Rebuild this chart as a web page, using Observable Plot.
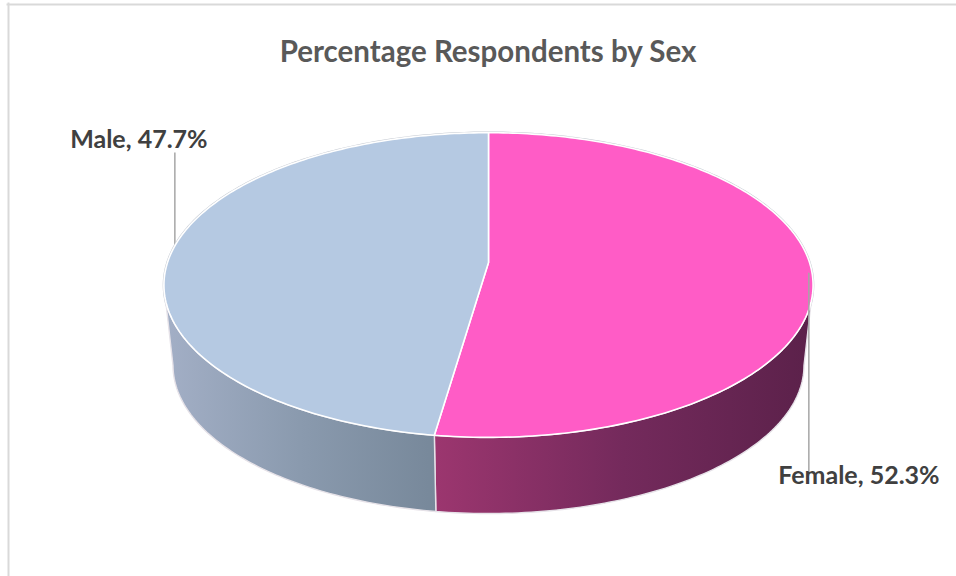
<!DOCTYPE html>
<html>
<head>
<meta charset="utf-8">
<style>
  html, body { margin: 0; padding: 0; background: #fff; }
  svg { display: block; }
</style>
<script src="https://cdn.jsdelivr.net/npm/d3@7"></script>
<script src="https://cdn.jsdelivr.net/npm/@observablehq/plot@0.6"></script>
</head>
<body>
<div id="chart"></div>
<script>
// Survey shares, in percent
const categories = ["Female", "Male"];
const shares = [52.3, 47.7];
const chartTitle = "Percentage Respondents by Sex";

const topColors = { Female: "#ff5cc6", Male: "#b5c9e2" };
const wallStops = {
  Female: ["#9c366f", "#742a5c", "#5b214a"],
  Male: ["#a3afc6", "#8a9aae", "#77889a"]
};

// Tilted disc drawn with a simple perspective: k is the foreshortening strength,
// the lower rim is a slightly smaller copy dropped below the upper one.
const k = 0.148, lowerScale = 0.972, lowerDrop = 0.544;
const rad = (d) => (d * Math.PI) / 180;

function project(deg, radius = 1, scale = 1, drop = 0) {
  const X = radius * Math.sin(rad(deg));
  const Z = radius * Math.cos(rad(deg));
  const w = 1 + k * Z;
  return { x: (scale * X) / w, y: (scale * Z) / w - drop };
}

function arc(from, to, scale = 1, drop = 0) {
  const n = Math.max(2, Math.ceil(Math.abs(to - from)));
  return d3.range(n + 1).map((i) => project(from + ((to - from) * i) / n, 1, scale, drop));
}

// Slices run clockwise from twelve o'clock
const total = d3.sum(shares);
const seam = (shares[0] / total) * 360;
const slices = [
  { name: categories[0], share: shares[0], start: 0, end: seam },
  { name: categories[1], share: shares[1], start: seam, end: 360 }
];

// Angles where the upper rim turns away from the viewer
const turnRight = (Math.acos(-k) * 180) / Math.PI;
const turnLeft = 360 - turnRight;

const topFace = (s) => [{ x: 0, y: 0 }, ...arc(s.start, s.end)];
const wallFace = (from, to) => [...arc(from, to), ...arc(to, from, lowerScale, lowerDrop)];

const walls = { Female: wallFace(turnRight, seam), Male: wallFace(seam, turnLeft) };

const anchors = slices.map((s) => ({
  ...s,
  ...project((s.start + s.end) / 2, 0.99),
  label: `${s.name}, ${s.share}%`
}));

function gradientDefs() {
  const svg = d3.create("svg:defs");
  for (const [name, stops] of Object.entries(wallStops)) {
    const g = svg.append("linearGradient").attr("id", `wall-${name}`);
    stops.forEach((c, i) =>
      g.append("stop").attr("offset", i / (stops.length - 1)).attr("stop-color", c)
    );
  }
  return svg.node();
}

const closed = { x: "x", y: "y", curve: "linear-closed" };
const labelStyle = { x: "x", y: "y", text: "label", fontSize: 25, fontWeight: 700, fill: "#404040", fontFamily: "Lato" };
const leaderStyle = { x: "x", stroke: "#a6a6a6", strokeWidth: 1.5 };

const chart = Plot.plot({
  width: 956,
  height: 576,
  margin: 0,
  x: { type: "linear", domain: [-1, 1], range: [167, 809], axis: null },
  y: { type: "linear", domain: [-1, 1], range: [411, 113], axis: null },
  marks: [
    gradientDefs,
    Plot.frame({ anchor: "top", stroke: "#d9d9d9", strokeWidth: 2, insetTop: 4, insetLeft: 7 }),
    Plot.frame({ anchor: "left", stroke: "#d9d9d9", strokeWidth: 2, insetLeft: 8, insetTop: 3 }),
    Plot.text([chartTitle], {
      frameAnchor: "top", dx: 9.5, dy: 52, text: (d) => d,
      fontSize: 29.5, fontWeight: 700, fill: "#595959", fontFamily: "Lato", lineAnchor: "middle"
    }),

    // Male leader runs behind the disc
    Plot.ruleX(anchors.filter((d) => d.name === "Male"), {
      ...leaderStyle, y1: "y", y2: (d) => d.y + 0.664
    }),

    // Soft rim seen around the disc, then the side wall and upper face
    Plot.line(arc(0, 360), { ...closed, stroke: "#c6cbd3", strokeWidth: 2.5 }),
    ...slices.map((s) =>
      Plot.line(walls[s.name], { ...closed, fill: `url(#wall-${s.name})`, stroke: "#e6e2e8", strokeWidth: 1.4 })
    ),
    ...slices.map((s) =>
      Plot.line(topFace(s), { ...closed, fill: topColors[s.name], stroke: "#ffffff", strokeWidth: 1.6 })
    ),

    // Female leader drops over the wall to its label
    Plot.ruleX(anchors.filter((d) => d.name === "Female"), {
      ...leaderStyle, y1: "y", y2: (d) => d.y - 1.36
    }),

    Plot.text(anchors.filter((d) => d.name === "Male"), { ...labelStyle, dx: -36, dy: -112 }),
    Plot.text(anchors.filter((d) => d.name === "Female"), { ...labelStyle, dx: 50, dy: 203 })
  ]
});

document.getElementById("chart").append(chart);
</script>
</body>
</html>
